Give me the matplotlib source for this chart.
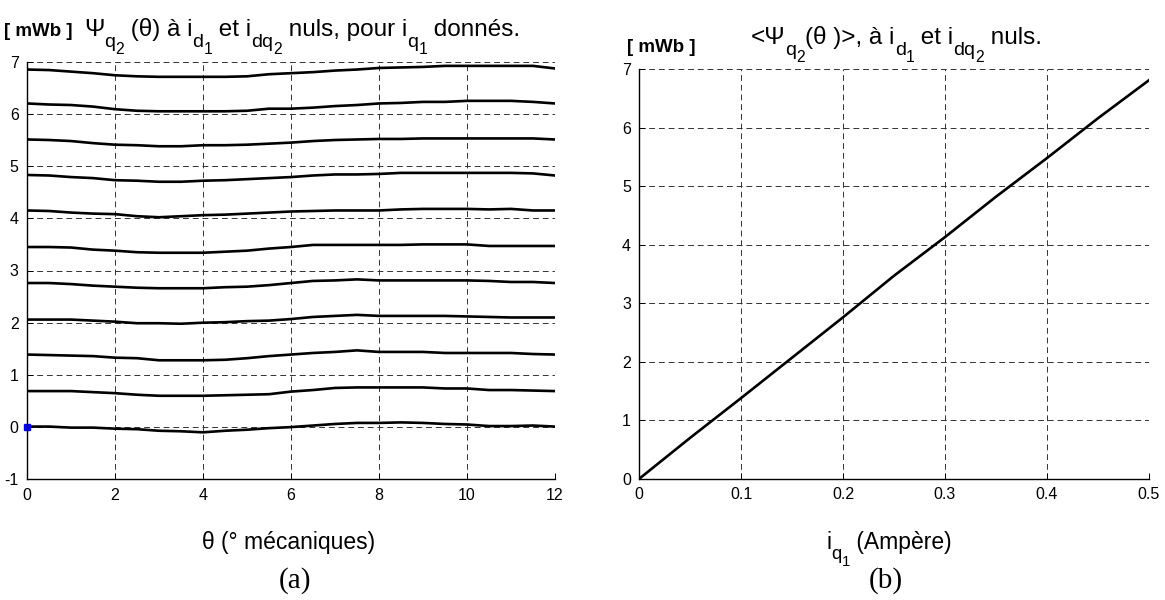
import numpy as np
import matplotlib
matplotlib.use('Agg')
import matplotlib.pyplot as plt

plt.rcParams['font.family'] = ['Liberation Sans', 'DejaVu Sans']
plt.rcParams['axes.unicode_minus'] = False

# (a) flux vs. mechanical angle, one curve per iq1 value
theta = [0, 0.5, 1, 1.5, 2, 2.5, 3, 3.5, 4, 4.5, 5, 5.5, 6,
         6.5, 7, 7.5, 8, 8.5, 9, 9.5, 10, 10.5, 11, 11.5, 12]

psi_00 = [0.01, 0.01, -0.01, -0.01, -0.03, -0.04, -0.07, -0.08, -0.10, -0.07, -0.05, -0.02, 0.00,
          0.03, 0.06, 0.08, 0.08, 0.09, 0.08, 0.06, 0.05, 0.02, 0.02, 0.03, 0.01]
psi_05 = [0.69, 0.69, 0.69, 0.67, 0.65, 0.62, 0.60, 0.60, 0.60, 0.61, 0.62, 0.63, 0.68,
          0.71, 0.75, 0.76, 0.76, 0.76, 0.76, 0.74, 0.74, 0.71, 0.71, 0.70, 0.69]
psi_10 = [1.39, 1.38, 1.37, 1.36, 1.33, 1.32, 1.28, 1.28, 1.28, 1.29, 1.32, 1.36, 1.39,
          1.42, 1.44, 1.47, 1.44, 1.44, 1.44, 1.42, 1.42, 1.42, 1.42, 1.40, 1.39]
psi_15 = [2.06, 2.06, 2.06, 2.04, 2.02, 1.99, 1.99, 1.98, 2.00, 2.01, 2.03, 2.04, 2.07,
          2.11, 2.13, 2.15, 2.13, 2.13, 2.13, 2.13, 2.12, 2.11, 2.10, 2.10, 2.10]
psi_20 = [2.76, 2.76, 2.74, 2.71, 2.69, 2.67, 2.66, 2.66, 2.66, 2.68, 2.69, 2.72, 2.76,
          2.80, 2.81, 2.83, 2.81, 2.81, 2.81, 2.81, 2.81, 2.80, 2.78, 2.78, 2.76]
psi_25 = [3.45, 3.45, 3.44, 3.40, 3.38, 3.35, 3.34, 3.34, 3.34, 3.36, 3.38, 3.42, 3.45,
          3.49, 3.49, 3.49, 3.49, 3.49, 3.50, 3.50, 3.50, 3.47, 3.47, 3.47, 3.47]
psi_30 = [4.15, 4.14, 4.11, 4.09, 4.08, 4.04, 4.02, 4.04, 4.06, 4.07, 4.09, 4.11, 4.13,
          4.14, 4.15, 4.15, 4.15, 4.17, 4.18, 4.18, 4.18, 4.17, 4.18, 4.15, 4.15]
psi_35 = [4.83, 4.82, 4.79, 4.77, 4.73, 4.72, 4.70, 4.70, 4.72, 4.73, 4.75, 4.77, 4.79,
          4.82, 4.84, 4.84, 4.85, 4.87, 4.87, 4.87, 4.87, 4.87, 4.87, 4.86, 4.82]
psi_40 = [5.51, 5.50, 5.48, 5.44, 5.41, 5.40, 5.38, 5.38, 5.40, 5.40, 5.41, 5.43, 5.45,
          5.48, 5.50, 5.51, 5.52, 5.52, 5.53, 5.53, 5.53, 5.53, 5.53, 5.53, 5.51]
psi_45 = [6.20, 6.18, 6.17, 6.14, 6.09, 6.06, 6.05, 6.05, 6.05, 6.05, 6.06, 6.10, 6.10,
          6.12, 6.15, 6.17, 6.20, 6.21, 6.23, 6.23, 6.25, 6.25, 6.25, 6.23, 6.20]
psi_50 = [6.85, 6.84, 6.81, 6.78, 6.74, 6.72, 6.71, 6.71, 6.71, 6.71, 6.72, 6.76, 6.78,
          6.80, 6.83, 6.85, 6.88, 6.89, 6.90, 6.92, 6.92, 6.92, 6.92, 6.92, 6.87]

curves = [psi_00, psi_05, psi_10, psi_15, psi_20, psi_25,
          psi_30, psi_35, psi_40, psi_45, psi_50]

# (b) mean flux vs. iq1
iq1 = [0, 0.05, 0.1, 0.15, 0.2, 0.25, 0.3, 0.35, 0.4, 0.45, 0.5]
psi_mean = [0, 0.70, 1.38, 2.07, 2.76, 3.47, 4.13, 4.82, 5.48, 6.16, 6.81]

W, H = 1165, 600
fig = plt.figure(figsize=(W / 100, H / 100), dpi=100)
renderer = fig.canvas.get_renderer()

ax1 = fig.add_axes([27 / W, 1 - 479.3 / H, (555 - 27) / W, (479.3 - 61.7) / H])
ax2 = fig.add_axes([639.3 / W, 1 - 478.7 / H, (1148.7 - 639.3) / W, (478.7 - 69.3) / H])


def style(ax):
    for s in ['top', 'right']:
        ax.spines[s].set_visible(False)
    for s in ['left', 'bottom']:
        ax.spines[s].set_linewidth(1.0)
    ax.grid(True, color='0.2', linestyle=(0, (6, 4)), linewidth=0.7)
    ax.tick_params(direction='in', length=4, width=0.7, labelsize=11.5, pad=6)
    ax.set_axisbelow(True)


def text_width(s, size):
    # advance width of s in pixels (bars keep leading/trailing spaces)
    t1 = fig.text(0, 0, '|' + s + '|', fontsize=size)
    t2 = fig.text(0, 0, '||', fontsize=size)
    w = t1.get_window_extent(renderer).width - t2.get_window_extent(renderer).width
    t1.remove()
    t2.remove()
    return w


# MATLAB-like subscripts: level 0 normal, 1 subscript, 2 sub-subscript
SUB_SCALE = [1.0, 0.8, 0.65]
SUB_DROP = [0.0, 0.45, 0.72]


def rich_text(x, y, pieces, size, ha='left'):
    widths = [text_width(s, size * SUB_SCALE[lvl]) for s, lvl in pieces]
    if ha == 'center':
        x -= sum(widths) / 2
    for (s, lvl), w in zip(pieces, widths):
        drop = SUB_DROP[lvl] * size * 100 / 72
        fig.text(x / W, 1 - (y + drop) / H, s, fontsize=size * SUB_SCALE[lvl],
                 va='baseline')
        x += w


for c in curves:
    ax1.plot(theta, c, color='black', linewidth=1.9)
ax1.plot([0], [0], marker='s', markersize=4, color='blue', clip_on=False)
ax1.set_xlim(0, 12)
ax1.set_ylim(-1, 7)
ax1.set_xticks(range(0, 13, 2))
ax1.set_yticks(range(-1, 8))
style(ax1)

ax2.plot(iq1, psi_mean, color='black', linewidth=1.9)
ax2.set_xlim(0, 0.5)
ax2.set_ylim(0, 7)
ax2.set_xticks([0, 0.1, 0.2, 0.3, 0.4, 0.5])
ax2.set_xticklabels(['0', '0.1', '0.2', '0.3', '0.4', '0.5'])
ax2.set_yticks(range(0, 8))
style(ax2)

# titles and units
fig.text(4 / W, 1 - 36 / H, '[ mWb ]', fontsize=13.5, fontweight='bold', va='baseline')
rich_text(84, 36, [('Ψ', 0), ('q', 1), ('2', 2), (' (θ) à i', 0), ('d', 1), ('1', 2),
                   (' et i', 0), ('dq', 1), ('2', 2), (' nuls, pour i', 0), ('q', 1),
                   ('1', 2), (' donnés.', 0)], 17.5)

fig.text(627 / W, 1 - 52 / H, '[ mWb ]', fontsize=13.5, fontweight='bold', va='baseline')
rich_text(751, 44, [('<Ψ', 0), ('q', 1), ('2', 2), ('(θ )>, à i', 0), ('d', 1), ('1', 2),
                    (' et i', 0), ('dq', 1), ('2', 2), (' nuls.', 0)], 17.5)

# axis labels
fig.text(289 / W, 1 - 549 / H, 'θ (° mécaniques)', fontsize=16.5, ha='center', va='baseline')
rich_text(889, 549, [('i', 0), ('q', 1), ('1', 2), (' (Ampère)', 0)], 16.5, ha='center')

fig.text(295 / W, 1 - 588 / H, '(a)', fontsize=21, family='Liberation Serif',
         ha='center', va='baseline')
fig.text(886 / W, 1 - 588 / H, '(b)', fontsize=21, family='Liberation Serif',
         ha='center', va='baseline')

fig.savefig('out.png', dpi=100)
